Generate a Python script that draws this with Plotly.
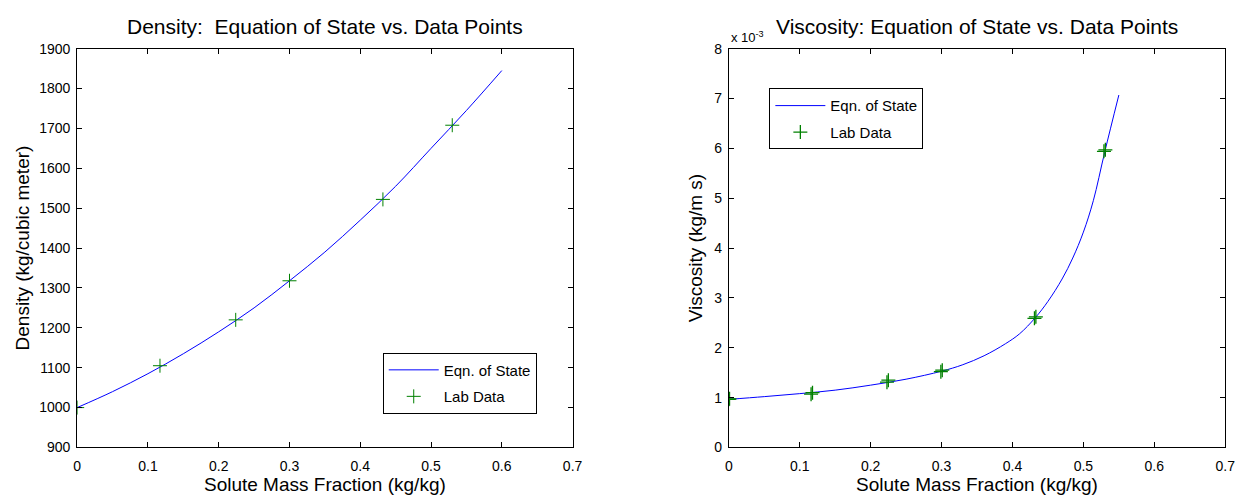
import plotly.graph_objects as go

# ---- Density data ----
dens_curve_x = [0.0, 0.05, 0.1, 0.15, 0.2, 0.25, 0.3, 0.35, 0.4, 0.45, 0.5, 0.55, 0.6]
dens_curve_y = [1000, 1040, 1085, 1135, 1190, 1250, 1318, 1390, 1470, 1555, 1650, 1745, 1845]
dens_lab_x = [0.0, 0.117, 0.224, 0.3, 0.432, 0.53]
dens_lab_y = [1000, 1105, 1220, 1318, 1522, 1708]

# ---- Viscosity data (kg/m s) ----
visc_curve_x = [0.0, 0.05, 0.1, 0.15, 0.2, 0.25, 0.3, 0.33, 0.36, 0.39, 0.41, 0.432, 0.45, 0.47, 0.485,
                0.5, 0.514, 0.53, 0.55]
visc_curve_y = [0.965e-3, 1.02e-3, 1.08e-3, 1.15e-3, 1.25e-3, 1.37e-3, 1.53e-3, 1.66e-3, 1.84e-3, 2.08e-3,
                2.28e-3, 2.60e-3, 2.93e-3, 3.38e-3, 3.80e-3, 4.32e-3, 4.95e-3, 5.92e-3, 7.07e-3]
visc_lab_x = [0.0, 0.001, 0.116, 0.118, 0.223, 0.225, 0.299, 0.301, 0.431, 0.433, 0.529, 0.531]
visc_lab_y = [0.965e-3, 0.975e-3, 1.07e-3, 1.10e-3, 1.31e-3, 1.35e-3, 1.52e-3, 1.55e-3, 2.59e-3, 2.62e-3,
              5.94e-3, 5.97e-3]

x_ticks = [0, 0.1, 0.2, 0.3, 0.4, 0.5, 0.6, 0.7]
x_tick_text = ["0", "0.1", "0.2", "0.3", "0.4", "0.5", "0.6", "0.7"]
dens_ticks = [900, 1000, 1100, 1200, 1300, 1400, 1500, 1600, 1700, 1800, 1900]
visc_ticks = [0, 1e-3, 2e-3, 3e-3, 4e-3, 5e-3, 6e-3, 7e-3, 8e-3]
visc_tick_text = ["0", "1", "2", "3", "4", "5", "6", "7", "8"]

FONT = "Liberation Sans, Arial, sans-serif"
BLUE = "rgb(0,0,255)"
GREEN = "rgb(0,128,0)"
W, H = 1254, 500

fig = go.Figure()
fig.add_trace(go.Scatter(x=dens_curve_x, y=dens_curve_y, mode="lines",
                         line=dict(color=BLUE, width=1, shape="spline"),
                         name="Eqn. of State", xaxis="x", yaxis="y", legend="legend", legendgroup="a"))
fig.add_trace(go.Scatter(x=dens_lab_x, y=dens_lab_y, mode="markers",
                         marker=dict(symbol="cross-thin", size=10, line=dict(color=GREEN, width=1)),
                         name="Lab Data", xaxis="x", yaxis="y", legend="legend", legendgroup="b"))
fig.add_trace(go.Scatter(x=visc_curve_x, y=visc_curve_y, mode="lines",
                         line=dict(color=BLUE, width=1, shape="spline"),
                         name="Eqn. of State", xaxis="x2", yaxis="y2", legend="legend2", legendgroup="c"))
fig.add_trace(go.Scatter(x=visc_lab_x, y=visc_lab_y, mode="markers",
                         marker=dict(symbol="cross-thin", size=10, line=dict(color=GREEN, width=1.3)),
                         name="Lab Data", xaxis="x2", yaxis="y2", legend="legend2", legendgroup="d"))

top, bottom = 42, 454
ydom = [1 - bottom / H, 1 - top / H]
L1, R1 = 74, 575
L2, R2 = 733, 1235

axis_common = dict(showline=True, linecolor="black", linewidth=1, mirror="ticks", ticks="inside", ticklen=5,
                   tickcolor="black", showgrid=False, zeroline=False,
                   tickfont=dict(family=FONT, size=14, color="black"))
TITLE_FONT = dict(family=FONT, size=19, color="black")
leg_common = dict(bordercolor="black", borderwidth=1, bgcolor="white", itemwidth=50, tracegroupgap=4,
                  font=dict(family=FONT, size=15, color="black"), xanchor="left", yanchor="top")

fig.update_layout(
    width=W, height=H, margin=dict(l=0, r=0, t=0, b=0),
    paper_bgcolor="white", plot_bgcolor="white",
    font=dict(family=FONT, color="black"),
    xaxis=dict(domain=[L1 / W, R1 / W], range=[0, 0.7], tickvals=x_ticks, ticktext=x_tick_text,
               ticklabelstandoff=6, title=dict(text="Solute Mass Fraction (kg/kg)", font=TITLE_FONT, standoff=2),
               anchor="y", **axis_common),
    yaxis=dict(domain=ydom, range=[900, 1900], tickvals=dens_ticks, anchor="x", ticklabelstandoff=3,
               title=dict(text="Density (kg/cubic meter)", font=TITLE_FONT, standoff=4), **axis_common),
    xaxis2=dict(domain=[L2 / W, R2 / W], range=[0, 0.7], tickvals=x_ticks, ticktext=x_tick_text,
                ticklabelstandoff=6, title=dict(text="Solute Mass Fraction (kg/kg)", font=TITLE_FONT, standoff=2),
                anchor="y2", **axis_common),
    yaxis2=dict(domain=ydom, range=[0, 8e-3], tickvals=visc_ticks, ticktext=visc_tick_text, anchor="x2",
                ticklabelstandoff=3, title=dict(text="Viscosity (kg/m s)", font=TITLE_FONT, standoff=6),
                **axis_common),
    legend=dict(x=383 / W, y=1 - 356 / H, **leg_common),
    legend2=dict(x=774 / W, y=1 - 83 / H, **leg_common),
    annotations=[
        dict(text="Density:  Equation of State vs. Data Points", x=(L1 + R1) / 2 / W, y=1 - 33 / H,
             xref="paper", yref="paper", xanchor="center", yanchor="bottom", showarrow=False,
             font=dict(family=FONT, size=21, color="black")),
        dict(text="Viscosity: Equation of State vs. Data Points", x=(L2 + R2) / 2 / W, y=1 - 33 / H,
             xref="paper", yref="paper", xanchor="center", yanchor="bottom", showarrow=False,
             font=dict(family=FONT, size=21, color="black")),
        dict(text="x 10<sup>-3</sup>", x=L2 / W, y=1 - (top - 2) / H, xref="paper", yref="paper",
             xanchor="left", yanchor="bottom", showarrow=False, font=dict(family=FONT, size=13, color="black")),
    ],
)

fig.write_html("out.html")
